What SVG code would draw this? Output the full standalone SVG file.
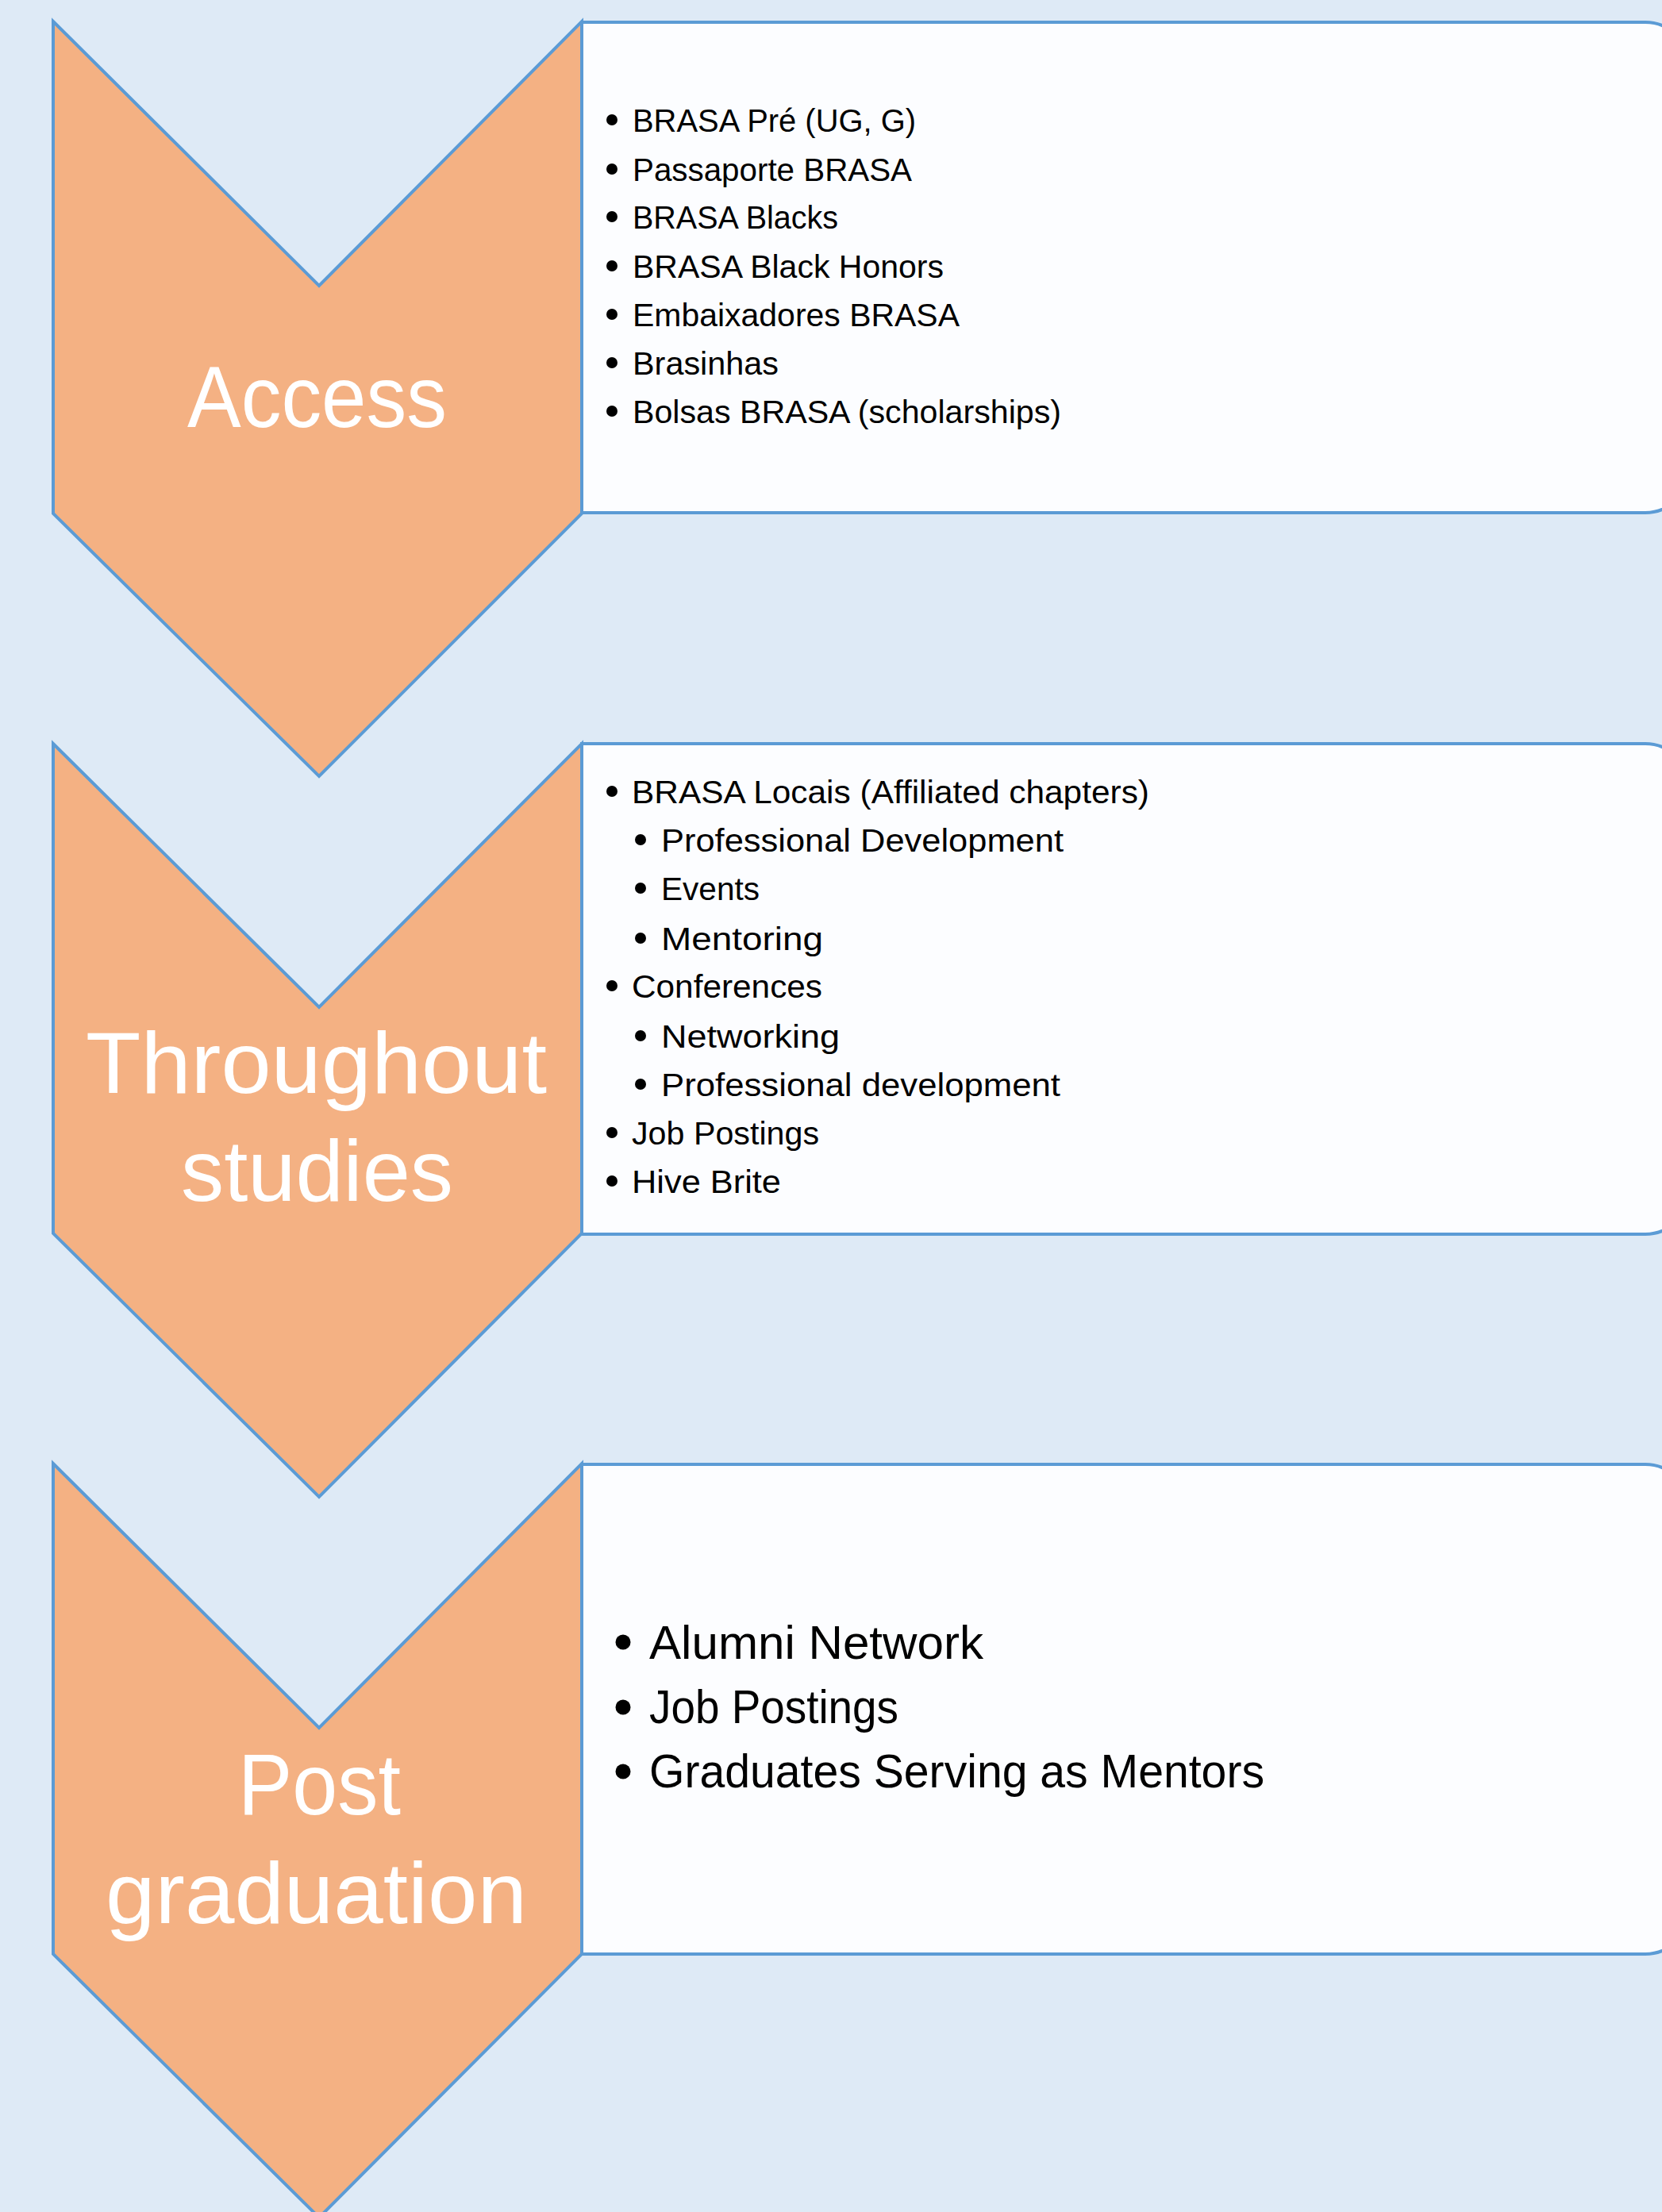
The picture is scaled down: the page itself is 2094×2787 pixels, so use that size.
<svg xmlns="http://www.w3.org/2000/svg" width="2094" height="2787" viewBox="0 0 2094 2787">
  <style>
    .bg { fill: #DEEAF6; }
    .chev { fill: #F4B183; stroke: #5B9BD5; stroke-width: 4; stroke-linejoin: miter; }
    .box { fill: #FCFDFF; stroke: #5B9BD5; stroke-width: 4; }
    .label { font-family: "Liberation Sans", Arial, sans-serif; font-size: 109px; fill: #FFFFFF; }
    .item { font-family: "Liberation Sans", Arial, sans-serif; font-size: 40px; fill: #000000; }
    .item-lg { font-family: "Liberation Sans", Arial, sans-serif; font-size: 59px; fill: #000000; }
    .dot { fill: #000000; }
  </style>

  <rect class="bg" x="0" y="0" width="2094" height="2787"/>

  <!-- Stage 1: Access -->
  <g id="access">
    <path class="box" d="M733,28 H2073 A55,55 0 0 1 2128,83 V591 A55,55 0 0 1 2073,646 H733 Z"/>
    <polygon class="chev" points="67,27 402,360 733,27 733,647 402,978 67,647"/>
    <text class="label" x="236" y="538" textLength="327" lengthAdjust="spacingAndGlyphs">Access</text>
    <g class="dots">
      <circle class="dot" cx="771" cy="151" r="7"/>
      <circle class="dot" cx="771" cy="213" r="7"/>
      <circle class="dot" cx="771" cy="273" r="7"/>
      <circle class="dot" cx="771" cy="335" r="7"/>
      <circle class="dot" cx="771" cy="396" r="7"/>
      <circle class="dot" cx="771" cy="457" r="7"/>
      <circle class="dot" cx="771" cy="518" r="7"/>
    </g>
    <text class="item" x="797" y="166" textLength="357" lengthAdjust="spacingAndGlyphs">BRASA Pré (UG, G)</text>
    <text class="item" x="797" y="228" textLength="352" lengthAdjust="spacingAndGlyphs">Passaporte BRASA</text>
    <text class="item" x="797" y="288" textLength="259" lengthAdjust="spacingAndGlyphs">BRASA Blacks</text>
    <text class="item" x="797" y="350" textLength="392" lengthAdjust="spacingAndGlyphs">BRASA Black Honors</text>
    <text class="item" x="797" y="411" textLength="412" lengthAdjust="spacingAndGlyphs">Embaixadores BRASA</text>
    <text class="item" x="797" y="472" textLength="184" lengthAdjust="spacingAndGlyphs">Brasinhas</text>
    <text class="item" x="797" y="533" textLength="540" lengthAdjust="spacingAndGlyphs">Bolsas BRASA (scholarships)</text>
  </g>

  <!-- Stage 2: Throughout studies -->
  <g id="throughout-studies">
    <path class="box" d="M733,937 H2073 A55,55 0 0 1 2128,992 V1500 A55,55 0 0 1 2073,1555 H733 Z"/>
    <polygon class="chev" points="67,937 402,1269 733,937 733,1554 402,1886 67,1554"/>
    <text class="label" x="108" y="1377" textLength="581" lengthAdjust="spacingAndGlyphs">Throughout</text>
    <text class="label" x="228" y="1513" textLength="343" lengthAdjust="spacingAndGlyphs">studies</text>
    <g class="dots">
      <circle class="dot" cx="771" cy="997" r="7"/>
      <circle class="dot" cx="807" cy="1058" r="7"/>
      <circle class="dot" cx="807" cy="1119" r="7"/>
      <circle class="dot" cx="807" cy="1182" r="7"/>
      <circle class="dot" cx="771" cy="1242" r="7"/>
      <circle class="dot" cx="807" cy="1305" r="7"/>
      <circle class="dot" cx="807" cy="1366" r="7"/>
      <circle class="dot" cx="771" cy="1427" r="7"/>
      <circle class="dot" cx="771" cy="1488" r="7"/>
    </g>
    <text class="item" x="796" y="1012" textLength="652" lengthAdjust="spacingAndGlyphs">BRASA Locais (Affiliated chapters)</text>
    <text class="item" x="833" y="1073" textLength="507" lengthAdjust="spacingAndGlyphs">Professional Development</text>
    <text class="item" x="833" y="1134" textLength="124" lengthAdjust="spacingAndGlyphs">Events</text>
    <text class="item" x="833" y="1197" textLength="204" lengthAdjust="spacingAndGlyphs">Mentoring</text>
    <text class="item" x="796" y="1257" textLength="240" lengthAdjust="spacingAndGlyphs">Conferences</text>
    <text class="item" x="833" y="1320" textLength="225" lengthAdjust="spacingAndGlyphs">Networking</text>
    <text class="item" x="833" y="1381" textLength="503" lengthAdjust="spacingAndGlyphs">Professional development</text>
    <text class="item" x="796" y="1442" textLength="236" lengthAdjust="spacingAndGlyphs">Job Postings</text>
    <text class="item" x="796" y="1503" textLength="188" lengthAdjust="spacingAndGlyphs">Hive Brite</text>
  </g>

  <!-- Stage 3: Post graduation -->
  <g id="post-graduation">
    <path class="box" d="M733,1845 H2073 A55,55 0 0 1 2128,1900 V2407 A55,55 0 0 1 2073,2462 H733 Z"/>
    <polygon class="chev" points="67,1844 402,2177 733,1844 733,2462 402,2794 67,2462"/>
    <text class="label" x="300" y="2286" textLength="205" lengthAdjust="spacingAndGlyphs">Post</text>
    <text class="label" x="133" y="2423" textLength="531" lengthAdjust="spacingAndGlyphs">graduation</text>
    <g class="dots">
      <circle class="dot" cx="785" cy="2069" r="9.5"/>
      <circle class="dot" cx="785" cy="2151" r="9.5"/>
      <circle class="dot" cx="785" cy="2232" r="9.5"/>
    </g>
    <text class="item-lg" x="818" y="2090" textLength="421" lengthAdjust="spacingAndGlyphs">Alumni Network</text>
    <text class="item-lg" x="818" y="2171" textLength="314" lengthAdjust="spacingAndGlyphs">Job Postings</text>
    <text class="item-lg" x="818" y="2252" textLength="775" lengthAdjust="spacingAndGlyphs">Graduates Serving as Mentors</text>
  </g>

  <!-- no connectors between stages: the chevrons themselves carry the flow -->
  <g id="connectors"/>
</svg>
